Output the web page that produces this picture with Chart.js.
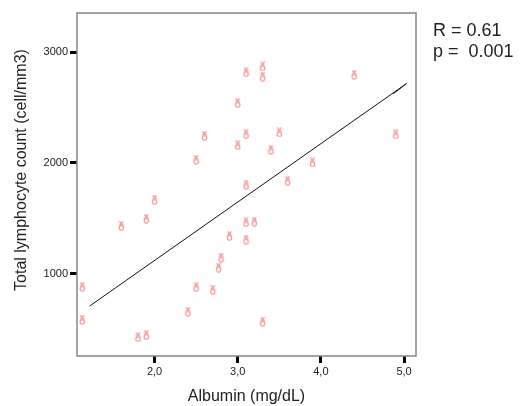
<!DOCTYPE html>
<html>
<head>
<meta charset="utf-8">
<script src="https://cdn.jsdelivr.net/npm/chart.js@4/dist/chart.umd.min.js"></script>
<style>
  html, body { margin: 0; padding: 0; background: #fff; }
  #wrap { position: relative; width: 528px; height: 406px; }
</style>
</head>
<body>
<div id="wrap"><canvas id="chartAlb" width="528" height="406"></canvas></div>
<script>
// albumin (mg/dL) vs total lymphocyte count (cell/mm3)
const albumin = [1.13, 1.13, 1.6, 1.9, 2.0, 1.8, 1.9, 2.4, 2.5, 2.5, 2.6, 2.7, 2.77, 2.8, 2.9,
                 3.0, 3.0, 3.1, 3.1, 3.1, 3.1, 3.1, 3.2, 3.3, 3.3, 3.3, 3.4, 3.5, 3.6, 3.9, 4.4, 4.9];
const lymphocytes = [885, 585, 1433, 1497, 1668, 429, 450, 660, 2030, 883, 2246, 856, 1057, 1147, 1343,
                     2541, 2159, 2818, 2260, 1804, 1466, 1310, 1472, 2870, 2779, 570, 2120, 2275, 1840, 2005, 2794, 2258];
// fit line as drawn (including the little hook at its end)
const fitX = [1.22, 5.03, 4.87];
const fitY = [711, 2716, 2623];
const xTicks = [2, 3, 4, 5];
const yTicks = [1000, 2000, 3000];
const yTitle = 'Total lymphocyte count (cell/mm3)';
const statLines = ['R = 0.61', 'p =  0.001'];

const pointsData = albumin.map((a, i) => ({ x: a, y: lymphocytes[i] }));
const lineData = fitX.map((a, i) => ({ x: a, y: fitY[i] }));

// small pink "x over o" marker like the SPSS one
function makeMarker() {
    const c = document.createElement('canvas');
    c.width = 7; c.height = 10;
    const g = c.getContext('2d');
    g.strokeStyle = '#f58e8e';
    g.lineWidth = 1.1;
    g.beginPath();
    g.moveTo(1.5, 0.5); g.lineTo(5.5, 4.5);
    g.moveTo(5.5, 0.5); g.lineTo(1.5, 4.5);
    g.stroke();
    g.beginPath();
    g.arc(3.5, 7, 2.2, 0, Math.PI * 2);
    g.stroke();
    return c;
}

const framePlugin = {
    id: 'frame',
    afterDraw(chart) {
        const { ctx, chartArea: a } = chart;
        ctx.save();
        ctx.strokeStyle = '#858585';
        ctx.lineWidth = 1.5;
        ctx.strokeRect(a.left, a.top, a.right - a.left, a.bottom - a.top);
        ctx.fillStyle = '#222';
        ctx.font = '18px "Liberation Sans", Arial, sans-serif';
        ctx.textBaseline = 'alphabetic';
        ctx.fillText(statLines[0], 433, 36);
        ctx.fillText(statLines[1], 433, 57);
        // y axis title (sits a bit above the plot centre in the original)
        ctx.font = '16px "Liberation Sans", Arial, sans-serif';
        ctx.textAlign = 'center';
        ctx.textBaseline = 'middle';
        ctx.translate(22, 170);
        ctx.rotate(-Math.PI / 2);
        ctx.fillText(yTitle, 0, 0);
        ctx.restore();
    }
};

const ctx = document.getElementById('chartAlb').getContext('2d');
new Chart(ctx, {
    type: 'scatter',
    data: {
        datasets: [
            {
                label: 'Lymphocytes',
                data: pointsData,
                pointStyle: makeMarker(),
                pointRadius: 4
            },
            {
                type: 'line',
                label: 'Fit',
                data: lineData,
                borderColor: '#111',
                borderWidth: 1,
                pointRadius: 0,
                fill: false,
                tension: 0
            }
        ]
    },
    plugins: [framePlugin],
    options: {
        responsive: false,
        animation: false,
        layout: { padding: { top: 13, right: 112, left: 0, bottom: 0 } },
        plugins: { legend: { display: false }, tooltip: { enabled: false } },
        scales: {
            x: {
                type: 'linear',
                min: 1.067,
                max: 5.144,
                afterBuildTicks: s => { s.ticks = xTicks.map(v => ({ value: v })); },
                afterFit: s => { s.height = 50; },
                grid: { drawOnChartArea: false, tickLength: 7, tickWidth: 3, tickColor: '#000' },
                border: { display: false },
                ticks: {
                    color: '#222',
                    padding: 2,
                    font: { family: 'Liberation Sans', size: 11 },
                    maxRotation: 0,
                    callback: v => v.toFixed(1).replace('.', ',')
                },
                title: {
                    display: true,
                    text: 'Albumin (mg/dL)',
                    color: '#222',
                    font: { family: 'Liberation Sans', size: 16 },
                    padding: { top: 5, bottom: 0 }
                }
            },
            y: {
                type: 'linear',
                min: 260,
                max: 3352,
                afterBuildTicks: s => { s.ticks = yTicks.map(v => ({ value: v })); },
                afterFit: s => { s.width = 77; },
                grid: { drawOnChartArea: false, tickLength: 7, tickWidth: 3, tickColor: '#000' },
                border: { display: false },
                ticks: {
                    color: '#222',
                    padding: 2,
                    font: { family: 'Liberation Sans', size: 11 },
                    callback: v => String(v)
                }
            }
        }
    }
});
</script>
</body>
</html>
